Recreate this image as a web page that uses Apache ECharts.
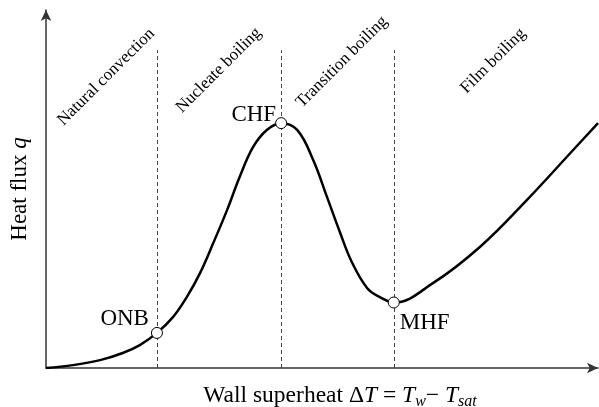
<!DOCTYPE html>
<html>
<head>
<meta charset="utf-8">
<script src="https://cdn.jsdelivr.net/npm/echarts@6/dist/echarts.min.js"></script>
<style>
  html, body { margin: 0; padding: 0; background: #fff; }
  #chart { width: 599px; height: 407px; }
</style>
</head>
<body>
<div id="chart"></div>
<script>
  // boiling curve, arbitrary units (0-100 on both axes)
  const curveX = [0, 4.9, 9.8, 13.9, 17.0, 20.1, 23.0, 25.5, 27.9, 30.3, 32.8, 35.1, 37.5, 40.0, 42.6, 45.5, 48.4, 50.9, 53.3, 55.4, 58.2, 60.5, 63.0, 70.1, 78.6, 87.1, 95.5, 100]
  const curveY = [0, 0.8, 2.2, 4.2, 6.4, 9.8, 14.2, 19.8, 26.5, 34.9, 44.1, 53.4, 61.7, 66.5, 68.4, 66.5, 58.1, 47.8, 37.7, 29.6, 22.3, 19.8, 18.3, 23.7, 33.8, 46.9, 60.9, 68.4]

  const keyNames = ['ONB', 'CHF', 'MHF']
  const keyX = [20.1, 42.6, 63.0]
  const keyY = [9.8, 68.4, 18.3]
  const boundaryTop = 88.8

  const regionNames = ['Natural convection', 'Nucleate boiling', 'Transition boiling', 'Film boiling']
  const regionX = [10.9, 31.3, 53.6, 81.0]
  const regionY = [81.3, 83.2, 85.5, 85.8]

  const serif = "'Liberation Serif', 'Times New Roman', serif"
  const axisColor = '#333'
  const textColor = '#000'

  const chart = echarts.init(document.getElementById('chart'))

  const keyLabel = {
    ONB: { position: 'left', offset: [3, -14] },
    CHF: { position: 'left', offset: [6, -8] },
    MHF: { position: 'right', offset: [-5, 20] }
  }

  chart.setOption({
    animation: false,
    grid: { left: 46, right: 1, top: 10, bottom: 39, outerBoundsMode: 'none', containLabel: false },
    xAxis: {
      type: 'value',
      min: 0,
      max: 100,
      name: '{a|Wall superheat Δ}{i|T}{a| = }{i|T}{s|w}{a|− }{i|T}{s|sat}',
      nameLocation: 'middle',
      nameGap: 13,
      nameTextStyle: {
        padding: [0, 0, 0, 36],
        rich: {
          a: { fontFamily: serif, fontSize: 23.5, color: textColor },
          i: { fontFamily: serif, fontSize: 23.5, fontStyle: 'italic', color: textColor },
          s: { fontFamily: serif, fontSize: 16, fontStyle: 'italic', color: textColor, padding: [13, 0, 0, 0] }
        }
      },
      axisLine: { lineStyle: { color: axisColor, width: 1.5 }, symbol: ['none', 'arrow'], symbolSize: [8, 11] },
      axisTick: { show: false },
      axisLabel: { show: false },
      splitLine: { show: false }
    },
    yAxis: {
      type: 'value',
      min: 0,
      max: 100,
      name: '{a|Heat flux }{i|q}',
      nameLocation: 'middle',
      nameRotate: 90,
      nameGap: 15,
      nameTextStyle: {
        rich: {
          a: { fontFamily: serif, fontSize: 23, color: textColor },
          i: { fontFamily: serif, fontSize: 23, fontStyle: 'italic', color: textColor }
        }
      },
      axisLine: { lineStyle: { color: axisColor, width: 1.5 }, symbol: ['none', 'arrow'], symbolSize: [8, 11] },
      axisTick: { show: false },
      axisLabel: { show: false },
      splitLine: { show: false }
    },
    series: [
      {
        type: 'line',
        data: curveX.map((x, i) => [x, curveY[i]]),
        smooth: 0.4,
        symbol: 'none',
        lineStyle: { color: '#000', width: 2.5 },
        z: 3,
        markLine: {
          silent: true,
          symbol: 'none',
          label: { show: false },
          lineStyle: { color: '#444', width: 1, type: [4, 3] },
          data: keyX.map(x => [{ coord: [x, 0] }, { coord: [x, boundaryTop] }])
        }
      },
      {
        type: 'scatter',
        data: keyNames.map((n, i) => ({
          value: [keyX[i], keyY[i]],
          name: n,
          label: keyLabel[n]
        })),
        symbol: 'circle',
        symbolSize: 11,
        itemStyle: { color: '#fff', borderColor: '#000', borderWidth: 1, opacity: 1 },
        label: {
          show: true,
          formatter: '{b}',
          fontFamily: serif,
          fontSize: 23,
          color: textColor
        },
        z: 5
      },
      {
        type: 'scatter',
        data: regionNames.map((n, i) => ({ value: [regionX[i], regionY[i]], name: n })),
        symbolSize: 0,
        itemStyle: { opacity: 1 },
        label: {
          show: true,
          position: 'inside',
          formatter: '{b}',
          rotate: 45,
          fontFamily: serif,
          fontSize: 17,
          color: textColor
        },
        z: 4
      }
    ]
  })
</script>
</body>
</html>
